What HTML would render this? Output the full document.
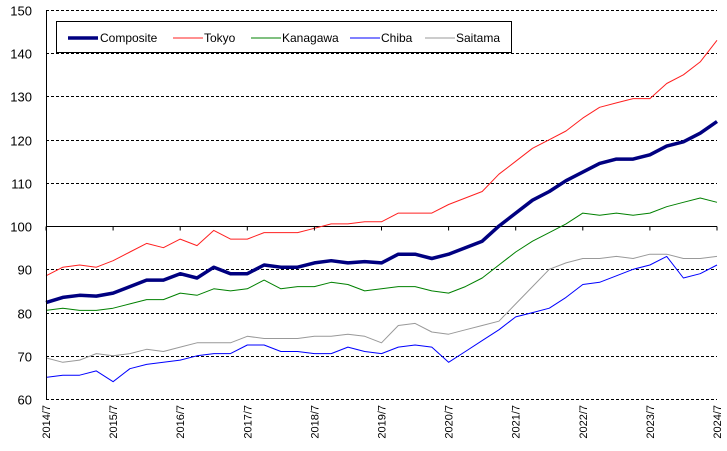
<!DOCTYPE html>
<html><head><meta charset="utf-8"><style>
body{margin:0;background:#fff;width:727px;height:446px;overflow:hidden}
svg{font-family:"Liberation Sans",sans-serif}
</style></head><body>
<svg id="chart" width="727" height="446" viewBox="0 0 727 446" xmlns="http://www.w3.org/2000/svg">
<g id="grid"></g>
<g id="series"></g>
<g id="axes"></g>
<g>
<rect x="56.5" y="21.5" width="455" height="31" fill="#fff" stroke="#000" stroke-width="1"/>
<g font-size="12" fill="#000">
<line x1="68" y1="38" x2="98" y2="38" stroke="#000080" stroke-width="3.5"/><text x="100" y="42">Composite</text>
<line x1="173" y1="38" x2="203" y2="38" stroke="#ff2020" stroke-width="1"/><text x="204" y="42">Tokyo</text>
<line x1="251" y1="38" x2="281" y2="38" stroke="#008000" stroke-width="1"/><text x="282" y="42">Kanagawa</text>
<line x1="350" y1="38" x2="380" y2="38" stroke="#0000ff" stroke-width="1"/><text x="381" y="42">Chiba</text>
<line x1="425" y1="38" x2="455" y2="38" stroke="#999" stroke-width="1"/><text x="456" y="42">Saitama</text>
</g></g>
</svg>
<script>
const xLabels=["2014/7","2015/7","2016/7","2017/7","2018/7","2019/7","2020/7","2021/7","2022/7","2023/7","2024/7"];
const yTicks=[60,70,80,90,100,110,120,130,140,150];
const composite=[82.3,83.5,84,83.8,84.5,86,87.5,87.5,89,88,90.5,89,89,91,90.5,90.5,91.5,92,91.5,91.8,91.5,93.5,93.5,92.5,93.5,95,96.5,100,103,106,108,110.5,112.5,114.5,115.5,115.5,116.5,118.5,119.5,121.5,124.2];
const tokyo=[88.5,90.5,91,90.5,92,94,96,95,97,95.5,99,97,97,98.5,98.5,98.5,99.5,100.5,100.5,101,101,103,103,103,105,106.5,108,112,115,118,120,122,125,127.5,128.5,129.5,129.5,133,135,138,143];
const kanagawa=[80.5,81,80.5,80.5,81,82,83,83,84.5,84,85.5,85,85.5,87.5,85.5,86,86,87,86.5,85,85.5,86,86,85,84.5,86,88,91,94,96.5,98.5,100.5,103,102.5,103,102.5,103,104.5,105.5,106.5,105.5];
const chiba=[65,65.5,65.5,66.5,64,67,68,68.5,69,70,70.5,70.5,72.5,72.5,71,71,70.5,70.5,72,71,70.5,72,72.5,72,68.5,71,73.5,76,79,80,81,83.5,86.5,87,88.5,90,91,93,88,89,91];
const saitama=[69.5,68.5,69,70.5,70,70.5,71.5,71,72,73,73,73,74.5,74,74,74,74.5,74.5,75,74.5,73,77,77.5,75.5,75,76,77,78,82,86,90,91.5,92.5,92.5,93,92.5,93.5,93.5,92.5,92.5,93];
const X0=46,X1=717,Y0=399,Y1=10,VMIN=60,VMAX=150,STEP_MONTHS=3,TOTAL_MONTHS=120;
const NS="http://www.w3.org/2000/svg";
function xs(i){return X0+(i*STEP_MONTHS)/TOTAL_MONTHS*(X1-X0);}
function ys(v){return Y0-(v-VMIN)/(VMAX-VMIN)*(Y0-Y1);}
const grid=document.getElementById('grid'),axes=document.getElementById('axes'),ser=document.getElementById('series');
yTicks.forEach(v=>{
  const l=document.createElementNS(NS,'line');
  
  
  const y=Math.round(ys(v))+0.5;
  l.setAttribute('x1',X0);l.setAttribute('x2',X1);l.setAttribute('y1',y);l.setAttribute('y2',y);
  l.setAttribute('stroke','#000');l.setAttribute('stroke-width','1');
  if(v!==100)l.setAttribute('stroke-dasharray','3,2');
  grid.appendChild(l);
  const t=document.createElementNS(NS,'text');
  
  
  t.setAttribute('x',32);t.setAttribute('y',y+5);t.setAttribute('text-anchor','end');t.setAttribute('font-size','13');
  t.textContent=v;axes.appendChild(t);
});
const ax=document.createElementNS(NS,'line');


ax.setAttribute('x1',X0+0.5);ax.setAttribute('x2',X0+0.5);ax.setAttribute('y1',Y1);ax.setAttribute('y2',Y0);ax.setAttribute('stroke','#000');
axes.appendChild(ax);
xLabels.forEach((lab,i)=>{
  const x=X0+i*12/TOTAL_MONTHS*(X1-X0);
  const tk=document.createElementNS(NS,'line');
  
  
  const y100=Math.round(ys(100))+0.5;
  tk.setAttribute('x1',x);tk.setAttribute('x2',x);tk.setAttribute('y1',y100);tk.setAttribute('y2',y100+4);tk.setAttribute('stroke','#000');
  axes.appendChild(tk);
  const t=document.createElementNS(NS,'text');
  
  
  t.setAttribute('font-size','11');t.setAttribute('text-anchor','end');
  t.setAttribute('transform','translate('+(x+4)+',405) rotate(-90)');
  t.textContent=lab;axes.appendChild(t);
});
function draw(arr,color,w,name){
  const p=document.createElementNS(NS,'polyline');
  
  
  p.setAttribute('points',arr.map((v,i)=>xs(i).toFixed(1)+','+ys(v).toFixed(1)).join(' '));
  p.setAttribute('fill','none');p.setAttribute('stroke',color);p.setAttribute('stroke-width',w);p.setAttribute('stroke-linejoin','round');
  ser.appendChild(p);
}
draw(saitama,'#999','1','line-saitama');
draw(chiba,'#0000ff','1','line-chiba');
draw(kanagawa,'#008000','1','line-kanagawa');
draw(tokyo,'#ff2020','1','line-tokyo');
draw(composite,'#000080','3.5','line-composite');
</script>
</body></html>
